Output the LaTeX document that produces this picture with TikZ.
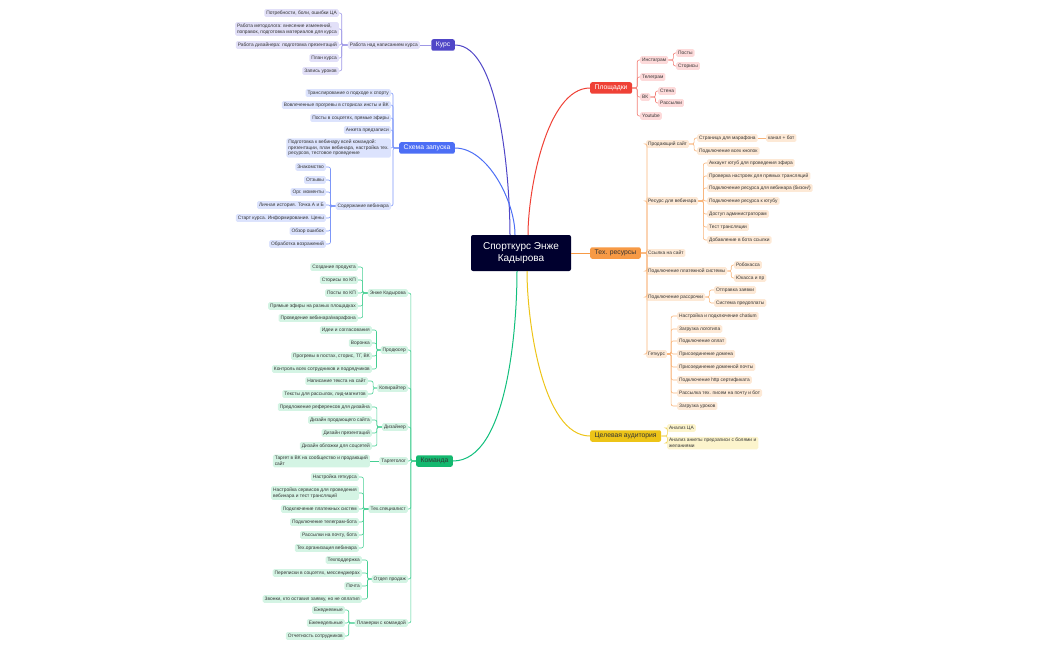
\documentclass[tikz,border=0pt]{standalone}
\usepackage{fontspec}
\setmainfont{Liberation Sans}
\definecolor{ctrfill}{HTML}{00002E}
\definecolor{txtgray}{HTML}{333333}
\definecolor{kursmain}{HTML}{5046C7}
\definecolor{kursfill}{HTML}{E2E0F8}
\definecolor{kursline}{HTML}{9E98E6}
\definecolor{schmain}{HTML}{4C6EF5}
\definecolor{schfill}{HTML}{DCE3FD}
\definecolor{schline}{HTML}{7D97F8}
\definecolor{teammain}{HTML}{14B86F}
\definecolor{teamfill}{HTML}{D4F4E4}
\definecolor{teamline}{HTML}{46CF93}
\definecolor{plmain}{HTML}{EF4136}
\definecolor{plfill}{HTML}{FDDADA}
\definecolor{plline}{HTML}{F37F77}
\definecolor{resmain}{HTML}{F79A45}
\definecolor{resfill}{HTML}{FDE9D6}
\definecolor{resline}{HTML}{F8B47A}
\definecolor{audmain}{HTML}{EDC418}
\definecolor{audfill}{HTML}{FCF4CC}
\definecolor{audline}{HTML}{F0D250}
\begin{document}
\begin{tikzpicture}[x=1pt,y=-1pt,
  leaf/.style={rounded corners=1.5pt,inner xsep=2pt,inner ysep=1.6pt,
    font=\fontsize{4.85}{5.7}\selectfont,text=txtgray,align=left},
  lf/.style={leaf,text height=3.5pt,text depth=1.1pt},
  mainbox/.style={rounded corners=2pt,inner xsep=4.5pt,inner ysep=2.6pt,
    font=\fontsize{6.8}{7.5}\selectfont,text height=4.9pt,text depth=1.4pt},
  kursleaf/.style={fill=kursfill,anchor=east},
  schleaf/.style={fill=schfill,anchor=east},
  teamleaf/.style={fill=teamfill,anchor=east},
  plleaf/.style={fill=plfill,anchor=west},
  resleaf/.style={fill=resfill,anchor=west},
  audleaf/.style={fill=audfill,anchor=west},
  kursedge/.style={draw=kursline,line width=0.6pt,rounded corners=2pt},
  schedge/.style={draw=schline,line width=0.6pt,rounded corners=2pt},
  teamedge/.style={draw=teamline,line width=0.6pt,rounded corners=2pt},
  pledge/.style={draw=plline,line width=0.6pt,rounded corners=2pt},
  resedge/.style={draw=resline,line width=0.6pt,rounded corners=2pt},
  audedge/.style={draw=audline,line width=0.6pt,rounded corners=2pt},
  branch/.style={line width=1pt}]
\useasboundingbox (0,0) rectangle (1050,650);

% centre
\node[fill=ctrfill,text=white,rounded corners=2pt,minimum width=100pt,minimum height=36pt,
  align=center,font=\fontsize{10}{12.5}\selectfont] (ctr) at (521,253) {Спорткурс Энже\\Кадырова};

% main branches
\node[mainbox,fill=kursmain,text=white,anchor=east] (kurs) at (455,45) {Курс};
\node[mainbox,fill=schmain,text=white,anchor=east] (schema) at (455,148) {Схема запуска};
\node[mainbox,fill=teammain,text=txtgray,anchor=east] (team) at (453,461) {Команда};
\node[mainbox,fill=plmain,text=white,anchor=west] (plat) at (590,88) {Площадки};
\node[mainbox,fill=resmain,text=txtgray,anchor=west] (res) at (590,253) {Тех. ресурсы};
\node[mainbox,fill=audmain,text=txtgray,anchor=west] (aud) at (590,436) {Целевая аудитория};

\draw[branch,kursmain] ([xshift=-11pt]ctr.north) to[out=90,in=0,looseness=0.6] (kurs.east);
\draw[branch,schmain] ([xshift=-6pt]ctr.north) to[out=90,in=0,looseness=0.8] (schema.east);
\draw[branch,teammain!90!cyan] ([xshift=-4pt]ctr.south) to[out=270,in=0,looseness=0.7] (team.east);
\draw[branch,plmain] ([xshift=7pt]ctr.north) to[out=90,in=180,looseness=0.7] (plat.west);
\draw[branch,resmain] (ctr.east) -- (res.west);
\draw[branch,audmain] ([xshift=6pt]ctr.south) to[out=270,in=180,looseness=0.7] (aud.west);

% Курс
\node[lf,fill=kursfill,anchor=east] (kwrite) at (420,45) {Работа над написанием курса};
\node[lf,kursleaf] (k1) at (339,13) {Потребности, боли, ошибки ЦА};
\node[leaf,kursleaf] (k2) at (339,29) {Работа методолога: внесение изменений,\\поправок, подготовка материалов для курса};
\node[lf,kursleaf] (k3) at (339,45) {Работа дизайнера: подготовка презентаций};
\node[lf,kursleaf] (k4) at (339,58) {План курса};
\node[lf,kursleaf] (k5) at (339,71) {Запись уроков};
\draw[kursedge] (kurs.west) -- (kwrite.east);
\foreach \c in {k1,k2,k3,k4,k5}
  \draw[kursedge] (kwrite.west) -- ++(-6,0) |- (\c.east);

% Схема запуска
\node[lf,schleaf] (s1) at (391,93) {Транслирование о подходе к спорту};
\node[lf,schleaf] (s2) at (391,105) {Вовлеченные прогревы в сторисах инсты и ВК};
\node[lf,schleaf] (s3) at (391,118) {Посты в соцсетях, прямые эфиры};
\node[lf,schleaf] (s4) at (391,130) {Анкета предзаписи};
\node[leaf,schleaf] (s5) at (391,148) {Подготовка к вебинару всей командой:\\презентации, план вебинара, настройка тех.\\ресурсов, тестовое проведение};
\node[lf,schleaf] (s6) at (391,206) {Содержание вебинара};
\node[lf,schleaf] (w1) at (326,167) {Знакомство};
\node[lf,schleaf] (w2) at (326,180) {Отзывы};
\node[lf,schleaf] (w3) at (326,192) {Орг. моменты};
\node[lf,schleaf] (w4) at (326,205) {Личная история. Точка А и Б};
\node[lf,schleaf] (w5) at (326,218) {Старт курса. Информирование. Цены};
\node[lf,schleaf] (w6) at (326,231) {Обзор ошибок};
\node[lf,schleaf] (w7) at (326,244) {Обработка возражений};
\foreach \c in {s1,s2,s3,s4,s5,s6}
  \draw[schedge] (schema.west) -- ++(-6,0) |- (\c.east);
\foreach \c in {w1,w2,w3,w4,w5,w6,w7}
  \draw[schedge] (s6.west) -- ++(-5,0) |- (\c.east);

% Команда
\node[lf,teamleaf] (t1) at (408,293) {Энже Кадырова};
\node[lf,teamleaf] (t2) at (408,350) {Продюсер};
\node[lf,teamleaf] (t3) at (408,388) {Копирайтер};
\node[lf,teamleaf] (t4) at (408,427) {Дизайнер};
\node[lf,teamleaf] (t5) at (408,461) {Таргетолог};
\node[lf,teamleaf] (t6) at (408,509) {Тех.специалист};
\node[lf,teamleaf] (t7) at (408,579) {Отдел продаж};
\node[lf,teamleaf] (t8) at (408,623) {Планерки с командой};
\foreach \c in {t1,t2,t3,t4,t5,t6,t7,t8}
  \draw[teamedge] (team.west) -- ++(-5,0) |- (\c.east);

\node[lf,teamleaf] (e1) at (358,267) {Создание продукта};
\node[lf,teamleaf] (e2) at (358,280) {Сторисы по КП};
\node[lf,teamleaf] (e3) at (358,293) {Посты по КП};
\node[lf,teamleaf] (e4) at (358,306) {Прямые эфиры на разных площадках};
\node[lf,teamleaf] (e5) at (358,318) {Проведение вебинара/марафона};
\foreach \c in {e1,e2,e3,e4,e5}
  \draw[teamedge] (t1.west) -- ++(-5,0) |- (\c.east);

\node[lf,teamleaf] (p1) at (372,330) {Идеи и согласования};
\node[lf,teamleaf] (p2) at (372,343) {Воронка};
\node[lf,teamleaf] (p3) at (372,356) {Прогревы в постах, сторис, ТГ, ВК};
\node[lf,teamleaf] (p4) at (372,369) {Контроль всех сотрудников и подрядчиков};
\foreach \c in {p1,p2,p3,p4}
  \draw[teamedge] (t2.west) -- ++(-4,0) |- (\c.east);

\node[lf,teamleaf] (c1) at (368,381) {Написание текста на сайт};
\node[lf,teamleaf] (c2) at (368,394) {Тексты для рассылок, лид-магнитов};
\foreach \c in {c1,c2}
  \draw[teamedge] (t3.west) -- ++(-4,0) |- (\c.east);

\node[lf,teamleaf] (d1) at (372,407) {Предложение референсов для дизайна};
\node[lf,teamleaf] (d2) at (372,420) {Дизайн продающего сайта};
\node[lf,teamleaf] (d3) at (372,433) {Дизайн презентаций};
\node[lf,teamleaf] (d4) at (372,446) {Дизайн обложки для соцсетей};
\foreach \c in {d1,d2,d3,d4}
  \draw[teamedge] (t4.west) -- ++(-5,0) |- (\c.east);

\node[leaf,teamleaf] (g1) at (370,461) {Таргет в ВК на сообщество и продающий\\сайт};
\draw[teamedge] (t5.west) -- (g1.east);

\node[lf,teamleaf] (h1) at (359,477) {Настройка геткурса};
\node[leaf,teamleaf] (h2) at (359,493) {Настройка сервисов для проведения\\вебинара и тест трансляций};
\node[lf,teamleaf] (h3) at (359,509) {Подключение платежных систем};
\node[lf,teamleaf] (h4) at (359,522) {Подключение телеграм-бота};
\node[lf,teamleaf] (h5) at (359,535) {Рассылки на почту, бота};
\node[lf,teamleaf] (h6) at (359,548) {Тех.организация вебинара};
\foreach \c in {h1,h2,h3,h4,h5,h6}
  \draw[teamedge] (t6.west) -- ++(-5,0) |- (\c.east);

\node[lf,teamleaf] (o1) at (362,560) {Техподдержка};
\node[lf,teamleaf] (o2) at (362,573) {Переписки в соцсетях, мессенджерах};
\node[lf,teamleaf] (o3) at (362,586) {Почта};
\node[lf,teamleaf] (o4) at (362,599) {Звонки, кто оставил заявку, но не оплатил};
\foreach \c in {o1,o2,o3,o4}
  \draw[teamedge] (t7.west) -- ++(-4,0) |- (\c.east);

\node[lf,teamleaf] (m1) at (345,610) {Ежедневные};
\node[lf,teamleaf] (m2) at (345,623) {Еженедельные};
\node[lf,teamleaf] (m3) at (345,636) {Отчетность сотрудников};
\foreach \c in {m1,m2,m3}
  \draw[teamedge] (t8.west) -- ++(-6,0) |- (\c.east);

% Площадки
\node[lf,plleaf] (q1) at (640,60) {Инстаграм};
\node[lf,plleaf] (q2) at (640,77) {Телеграм};
\node[lf,plleaf] (q3) at (640,97) {ВК};
\node[lf,plleaf] (q4) at (640,116) {Youtube};
\foreach \c in {q1,q2,q3,q4}
  \draw[pledge] (plat.east) -- ++(5,0) |- (\c.west);
\node[lf,plleaf] (q11) at (676,53) {Посты};
\node[lf,plleaf] (q12) at (676,66) {Сторисы};
\foreach \c in {q11,q12}
  \draw[pledge] (q1.east) -- ++(5,0) |- (\c.west);
\node[lf,plleaf] (q31) at (658,91) {Стена};
\node[lf,plleaf] (q32) at (658,103) {Рассылки};
\foreach \c in {q31,q32}
  \draw[pledge] (q3.east) -- ++(5,0) |- (\c.west);

% Тех. ресурсы
\node[lf,resleaf] (r1) at (646,144) {Продающий сайт};
\node[lf,resleaf] (r2) at (646,201) {Ресурс для вебинара};
\node[lf,resleaf] (r3) at (646,253) {Ссылка на сайт};
\node[lf,resleaf] (r4) at (646,271) {Подключение платежной системы};
\node[lf,resleaf] (r5) at (646,297) {Подключение рассрочки};
\node[lf,resleaf] (r6) at (646,354) {Геткурс};
\foreach \c in {r1,r2,r3,r4,r5,r6}
  \draw[resedge] (res.east) -- ++(6,0) |- (\c.west);

\node[lf,resleaf] (r11) at (697,138) {Страница для марафона};
\node[lf,resleaf] (r12) at (697,151) {Подключение всех кнопок};
\node[lf,resleaf] (r111) at (766,138) {канал + бот};
\foreach \c in {r11,r12}
  \draw[resedge] (r1.east) -- ++(5,0) |- (\c.west);
\draw[resedge] (r11.east) -- (r111.west);

\node[lf,resleaf] (r21) at (707,163) {Аккаунт ютуб для проведения эфира};
\node[lf,resleaf] (r22) at (707,176) {Проверка настроек для прямых трансляций};
\node[lf,resleaf] (r23) at (707,188) {Подключение ресурса для вебинара (бизон/)};
\node[lf,resleaf] (r24) at (707,201) {Подключение ресурса к ютубу};
\node[lf,resleaf] (r25) at (707,214) {Доступ администраторам};
\node[lf,resleaf] (r26) at (707,227) {Тест трансляции};
\node[lf,resleaf] (r27) at (707,240) {Добавление в бота ссылки};
\foreach \c in {r21,r22,r23,r24,r25,r26,r27}
  \draw[resedge] (r2.east) -- ++(5,0) |- (\c.west);

\node[lf,resleaf] (r41) at (734,265) {Робокасса};
\node[lf,resleaf] (r42) at (734,278) {Юкасса и пр};
\foreach \c in {r41,r42}
  \draw[resedge] (r4.east) -- ++(4,0) |- (\c.west);

\node[lf,resleaf] (r51) at (714,290) {Отправка заявки};
\node[lf,resleaf] (r52) at (714,303) {Система предоплаты};
\foreach \c in {r51,r52}
  \draw[resedge] (r5.east) -- ++(4,0) |- (\c.west);

\node[lf,resleaf] (r61) at (677,316) {Настройка и подключение chatium};
\node[lf,resleaf] (r62) at (677,329) {Загрузка логотипа};
\node[lf,resleaf] (r63) at (677,341) {Подключение оплат};
\node[lf,resleaf] (r64) at (677,354) {Присоединение домена};
\node[lf,resleaf] (r65) at (677,367) {Присоединение доменной почты};
\node[lf,resleaf] (r66) at (677,380) {Подключение http сертификата};
\node[lf,resleaf] (r67) at (677,393) {Рассылка тех. писем на почту и бот};
\node[lf,resleaf] (r68) at (677,406) {Загрузка уроков};
\foreach \c in {r61,r62,r63,r64,r65,r66,r67,r68}
  \draw[resedge] (r6.east) -- ++(4,0) |- (\c.west);

% Целевая аудитория
\node[lf,audleaf] (a1) at (667,428) {Анализ ЦА};
\node[leaf,audleaf] (a2) at (667,443) {Анализ анкеты предзаписи с болями и\\желаниями};
\foreach \c in {a1,a2}
  \draw[audedge] (aud.east) -- ++(6,0) |- (\c.west);
\end{tikzpicture}
\end{document}
